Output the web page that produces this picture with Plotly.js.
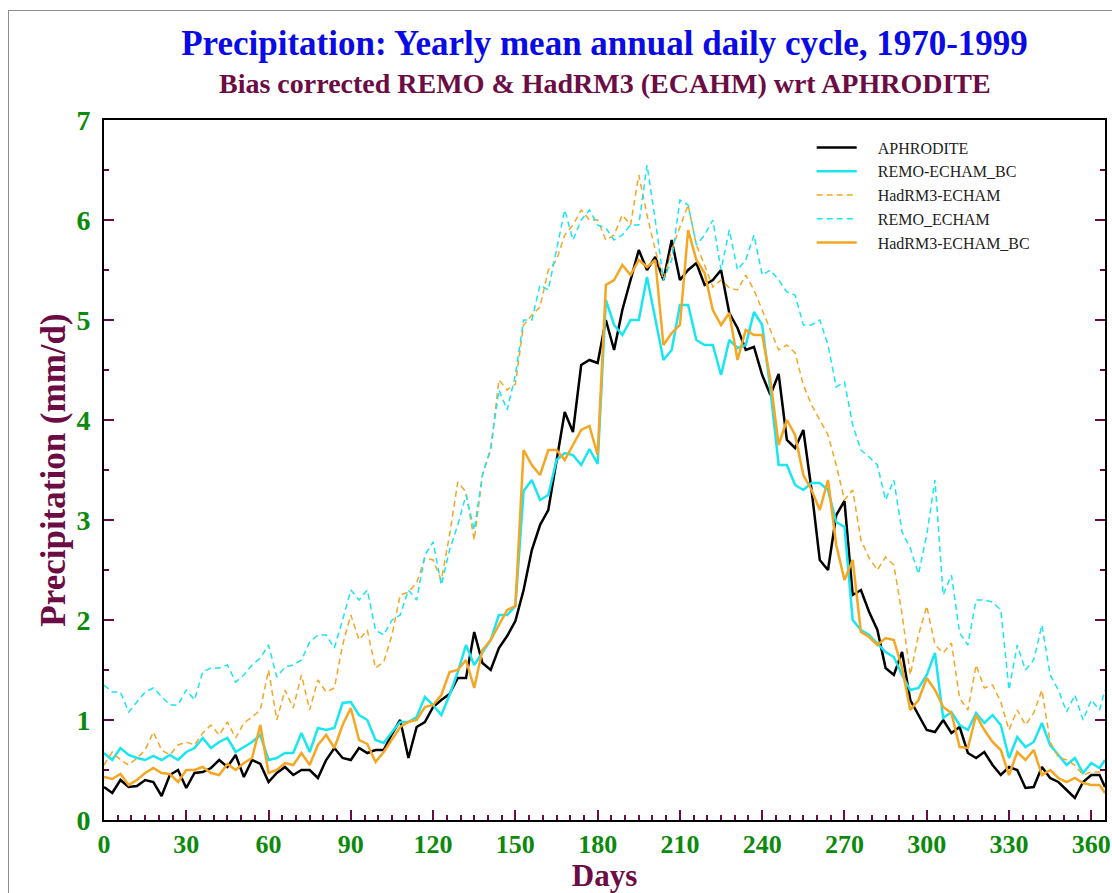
<!DOCTYPE html>
<html>
<head>
<meta charset="utf-8">
<script src="https://cdn.plot.ly/plotly-3.0.1.min.js"></script>
<style>
  html, body { margin: 0; padding: 0; background: #ffffff; }
  #frame { position: absolute; left: 8px; top: 10px; width: 1104px; height: 883px;
           border-left: 1px solid #8c8c8c; border-top: 1px solid #8c8c8c; }
  #chart { position: absolute; left: 0; top: 0; width: 1112px; height: 893px; }
</style>
</head>
<body>
<div id="frame"></div>
<div id="chart"></div>
<script>
// Day grid (every 3 days, plus the last day)
const days = [];
for (let d = 0; d <= 363; d += 3) days.push(d);
days.push(365);

const aphrodite = [
  0.33,0.27,0.40,0.33,0.34,0.40,0.38,0.24,0.45,0.50,
  0.32,0.47,0.48,0.52,0.60,0.53,0.65,0.43,0.60,0.56,
  0.38,0.47,0.53,0.45,0.50,0.50,0.42,0.60,0.72,0.62,
  0.60,0.72,0.67,0.70,0.70,0.86,1.00,0.62,0.93,0.98,
  1.13,1.20,1.26,1.42,1.42,1.88,1.57,1.50,1.72,1.84,
  1.99,2.30,2.70,2.95,3.10,3.60,4.08,3.88,4.55,4.60,
  4.57,5.00,4.70,5.10,5.40,5.70,5.50,5.63,5.40,5.80,
  5.40,5.50,5.57,5.35,5.40,5.50,5.07,4.92,4.70,4.73,
  4.45,4.25,4.46,3.80,3.72,3.90,3.30,2.60,2.50,3.05,
  3.19,2.25,2.30,2.08,1.90,1.52,1.45,1.68,1.20,1.05,
  0.90,0.88,1.00,0.87,0.93,0.67,0.62,0.68,0.55,0.45,
  0.53,0.50,0.32,0.33,0.53,0.42,0.38,0.30,0.22,0.38,
  0.45,0.45,0.33
];

const remoBC = [
  0.67,0.60,0.72,0.65,0.62,0.60,0.64,0.60,0.65,0.60,
  0.68,0.72,0.82,0.72,0.78,0.82,0.68,0.73,0.78,0.85,
  0.60,0.62,0.67,0.67,0.87,0.68,0.92,0.90,0.92,1.17,
  1.18,1.05,1.00,0.80,0.77,0.88,0.98,0.98,1.03,1.23,
  1.15,1.05,1.25,1.48,1.75,1.55,1.68,1.80,2.05,2.05,
  2.14,3.29,3.40,3.20,3.25,3.60,3.67,3.65,3.55,3.71,
  3.56,5.20,4.95,4.85,5.00,5.00,5.43,5.00,4.60,4.70,
  5.15,5.15,4.80,4.75,4.75,4.45,4.80,4.72,4.75,5.08,
  4.95,4.30,3.55,3.55,3.35,3.30,3.37,3.37,3.30,2.98,
  2.93,2.00,1.90,1.85,1.77,1.68,1.63,1.45,1.30,1.32,
  1.45,1.67,1.02,1.08,0.95,0.90,1.07,0.97,1.05,0.95,
  0.62,0.83,0.73,0.78,0.97,0.75,0.65,0.55,0.62,0.47,
  0.57,0.52,0.60
];

const hadrm3 = [
  0.55,0.68,0.60,0.55,0.62,0.70,0.88,0.70,0.65,0.75,
  0.78,0.75,0.87,0.95,0.85,0.98,0.82,0.97,1.03,1.10,
  1.50,1.00,1.30,1.12,1.45,1.10,1.40,1.28,1.32,1.75,
  2.05,1.80,1.90,1.52,1.58,1.85,2.25,2.28,2.37,2.62,
  2.60,2.40,2.85,3.38,3.28,2.80,3.45,3.70,4.40,4.30,
  4.36,4.95,5.05,5.13,5.50,5.60,5.85,5.95,6.10,6.00,
  6.00,5.80,5.85,6.05,5.95,6.45,6.05,5.70,5.40,5.70,
  5.93,6.15,5.75,5.55,5.33,5.40,5.32,5.30,5.45,5.30,
  5.10,4.90,4.70,4.75,4.67,4.35,4.15,4.00,3.85,3.55,
  3.20,3.30,2.80,2.62,2.50,2.63,2.55,2.06,1.45,1.85,
  2.14,1.75,1.67,1.77,1.22,1.10,1.55,1.32,1.35,1.18,
  0.90,1.10,0.95,1.07,1.30,0.78,0.63,0.60,0.55,0.45,
  0.48,0.48,0.47
];

const remo = [
  1.35,1.28,1.28,1.08,1.18,1.28,1.32,1.23,1.15,1.15,
  1.30,1.20,1.48,1.52,1.52,1.55,1.38,1.45,1.55,1.62,
  1.75,1.43,1.53,1.55,1.60,1.78,1.85,1.85,1.72,2.00,
  2.30,2.20,2.30,1.90,1.85,2.00,2.05,2.30,2.20,2.65,
  2.78,2.35,2.70,2.95,3.25,2.90,3.45,3.72,4.30,4.10,
  4.45,5.00,5.00,5.35,5.30,5.70,6.10,5.80,6.00,6.10,
  5.95,5.92,5.80,5.85,5.95,5.95,6.55,6.00,5.40,5.60,
  6.20,6.15,5.75,5.85,6.00,5.50,5.90,5.50,5.60,5.85,
  5.45,5.50,5.40,5.28,5.25,4.95,4.95,5.00,4.75,4.33,
  4.38,3.95,3.70,3.63,3.55,3.20,3.40,2.88,2.72,2.46,
  2.85,3.40,2.25,2.45,1.87,1.75,2.20,2.20,2.18,2.10,
  1.30,1.75,1.50,1.60,1.95,1.45,1.30,1.08,1.25,1.00,
  1.20,1.10,1.30
];

const hadrm3BC = [
  0.43,0.41,0.46,0.35,0.40,0.47,0.52,0.47,0.46,0.38,
  0.50,0.50,0.53,0.47,0.45,0.56,0.50,0.57,0.62,0.95,
  0.47,0.50,0.57,0.55,0.67,0.55,0.75,0.85,0.72,0.95,
  1.12,0.80,0.76,0.58,0.68,0.80,0.93,0.98,1.00,1.13,
  1.15,1.25,1.48,1.50,1.60,1.32,1.70,1.80,1.95,2.10,
  2.14,3.70,3.55,3.45,3.70,3.70,3.60,3.75,3.90,3.94,
  3.65,5.35,5.40,5.55,5.45,5.60,5.53,5.60,4.75,4.87,
  4.95,5.90,5.60,5.47,5.10,4.95,5.07,4.60,4.90,4.85,
  4.85,4.40,3.75,4.00,3.85,3.45,3.30,3.10,3.40,2.75,
  2.40,2.60,1.88,1.83,1.75,1.82,1.80,1.52,1.10,1.20,
  1.42,1.30,1.13,1.07,0.73,0.72,1.05,0.90,0.78,0.70,
  0.45,0.68,0.60,0.70,0.45,0.50,0.42,0.38,0.42,0.37,
  0.35,0.35,0.27
];

const seriesNames = ['APHRODITE','REMO-ECHAM_BC','HadRM3-ECHAM','REMO_ECHAM','HadRM3-ECHAM_BC'];
const seriesData = [aphrodite, remoBC, hadrm3, remo, hadrm3BC];
const seriesColors = ['#000000','#19e6f0','#f5a623','#19e6f0','#f5a623'];
const seriesDash = ['solid','solid','6px,4px','6px,4px','solid'];
const seriesWidth = [2.5,2.5,1.5,1.5,2.5];

const xTickVals = [0,30,60,90,120,150,180,210,240,270,300,330,360];
const yTickVals = [0,1,2,3,4,5,6,7];

const serif = 'Liberation Serif, Times New Roman, serif';
const maroon = '#6b0d44';
const green = '#0b8a0b';

const traces = seriesNames.map((n, i) => ({
  type: 'scatter', mode: 'lines', name: '\u2002\u2002' + n,
  x: days, y: seriesData[i],
  line: { color: seriesColors[i], width: seriesWidth[i], dash: seriesDash[i] }
}));

const layout = {
  width: 1112, height: 893,
  paper_bgcolor: 'rgba(0,0,0,0)', plot_bgcolor: 'rgba(0,0,0,0)',
  margin: { l: 104, r: 7, t: 120, b: 73 },
  showlegend: true,
  title: {
    text: 'Precipitation: Yearly mean annual daily cycle, 1970-1999',
    font: { family: serif, size: 35, color: '#0a0ae6', weight: 'bold' },
    xref: 'paper', x: 0.5, xanchor: 'center',
    yref: 'container', y: 1 - 43/893, yanchor: 'middle'
  },
  annotations: [{
    text: 'Bias corrected REMO &amp; HadRM3 (ECAHM) wrt APHRODITE',
    xref: 'paper', yref: 'paper', x: 0.5, y: 1.052, xanchor: 'center', yanchor: 'middle',
    showarrow: false,
    font: { family: serif, size: 28, color: maroon, weight: 'bold' }
  }],
  xaxis: {
    range: [0, 365], tickvals: xTickVals, ticktext: xTickVals.map(String),
    ticks: 'inside', ticklen: 10, tickwidth: 2, tickcolor: maroon,
    minor: { dtick: 5, tick0: 0, ticks: 'inside', ticklen: 5, tickwidth: 2, tickcolor: maroon, showgrid: false },
    showline: true, linecolor: '#000000', linewidth: 2, mirror: true,
    showgrid: false, zeroline: false,
    tickfont: { family: serif, size: 26, color: green, weight: 'bold' },
    ticklabelstandoff: 0, ticklabeloverflow: 'allow',
    title: { text: 'Days', font: { family: serif, size: 31, color: maroon, weight: 'bold' }, standoff: 8 }
  },
  yaxis: {
    range: [0, 7], tickvals: yTickVals, ticktext: yTickVals.map(String),
    ticks: 'inside', ticklen: 10, tickwidth: 2, tickcolor: maroon,
    minor: { dtick: 0.5, tick0: 0, ticks: 'inside', ticklen: 5, tickwidth: 2, tickcolor: maroon, showgrid: false },
    showline: true, linecolor: '#000000', linewidth: 2, mirror: 'ticks',
    showgrid: false, zeroline: false,
    tickfont: { family: serif, size: 28, color: green, weight: 'bold' },
    ticklabelstandoff: 6, ticklabeloverflow: 'allow',
    title: { text: 'Precipitation (mm/d)', font: { family: serif, size: 35, color: maroon, weight: 'bold' }, standoff: 0 }
  },
  legend: {
    x: 0.707, y: 0.985, xanchor: 'left', yanchor: 'top',
    bgcolor: 'rgba(255,255,255,0)', borderwidth: 0,
    font: { family: serif, size: 16, color: '#222222' },
    tracegroupgap: 0, itemwidth: 40
  }
};

Plotly.newPlot('chart', traces, layout, { displayModeBar: false, responsive: false });
</script>
</body>
</html>
